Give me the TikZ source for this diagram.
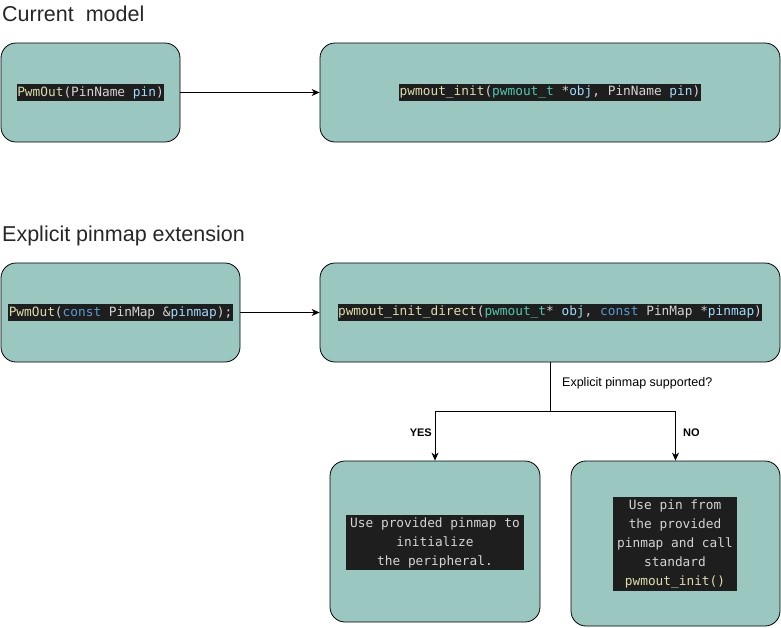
\documentclass[tikz,border=0pt]{standalone}
\usepackage{fontspec}
\setmainfont{Liberation Sans}
\setmonofont{DejaVu Sans Mono}
\usepackage{xcolor}
\usepackage{tikz}
\usetikzlibrary{arrows.meta,positioning}
\definecolor{boxfill}{HTML}{9AC7BF}
\definecolor{codebg}{HTML}{1E1E1E}
\definecolor{codefg}{HTML}{D4D4D4}
\definecolor{codefn}{HTML}{DCDCAA}
\definecolor{codety}{HTML}{4EC9B0}
\definecolor{codekw}{HTML}{569CD6}
\definecolor{codevr}{HTML}{9CDCFE}
\newcommand{\cfn}[1]{\textcolor{codefn}{#1}}
\newcommand{\cty}[1]{\textcolor{codety}{#1}}
\newcommand{\ckw}[1]{\textcolor{codekw}{#1}}
\newcommand{\cvr}[1]{\textcolor{codevr}{#1}}
\begin{document}
\begin{tikzpicture}[x=1pt,y=-1pt,
  block/.style={draw=black,line width=0.8pt,fill=boxfill,rounded corners=15pt},
  code/.style={fill=codebg,text=codefg,font=\ttfamily\fontsize{12.8}{19}\selectfont,
    inner xsep=0.3pt,inner ysep=2.6pt,align=center},
  title/.style={anchor=base west,inner sep=0pt,font=\fontsize{21.5}{24}\selectfont,text=black!85},
  flow/.style={line width=0.8pt,-{Stealth[length=8pt,width=7pt,inset=2.5pt]}},
  branch/.style={inner sep=0pt,font=\fontsize{12.5}{14}\selectfont},
  answer/.style={inner sep=0pt,font=\bfseries\fontsize{11}{13}\selectfont}]
\useasboundingbox (0,0) rectangle (781,627);
\node[title] (cur-title) at (2,21) {Current\ \ model};
\node[title] (ext-title) at (2,241) {Explicit pinmap extension};
\node[block,minimum width=179pt,minimum height=99pt] (cur-api) at (90.5,92.5) {};
\node[block,minimum width=460pt,minimum height=99pt] (cur-hal) at (550,92.5) {};
\node[block,minimum width=239pt,minimum height=99pt] (ext-api) at (120.5,312.5) {};
\node[block,minimum width=460pt,minimum height=99pt] (ext-hal) at (550,312.5) {};
\node[block,minimum width=210pt,minimum height=161pt] (use-pinmap) at (435,541.5) {};
\node[block,minimum width=209pt,minimum height=165pt] (use-pin) at (675.5,543.5) {};
\node[code] (cur-api-code) at (cur-api) {\cfn{PwmOut}(PinName \cvr{pin})};
\node[code] (cur-hal-code) at (cur-hal) {\cfn{pwmout\_init}(\cty{pwmout\_t} *\cvr{obj}, PinName \cvr{pin})};
\node[code] (ext-api-code) at (ext-api) {\cfn{PwmOut}(\ckw{const} PinMap \&\cvr{pinmap});};
\node[code] (ext-hal-code) at (ext-hal) {\cfn{pwmout\_init\_direct}(\cty{pwmout\_t}* \cvr{obj}, \ckw{const} PinMap *\cvr{pinmap})};
\node[code,minimum width=178pt] (use-pinmap-code) at (435,542.5) {Use provided pinmap to\\initialize\\the peripheral.};
\node[code,minimum width=124pt] (use-pin-code) at (675,544) {Use pin from\\the provided\\pinmap and call\\standard\\\cfn{pwmout\_init()}};
\draw[flow] (cur-api) -- (cur-hal);
\draw[flow] (ext-api) -- (ext-hal);
\coordinate (split) at (550,411);
\draw[line width=0.8pt] (ext-hal.south) -- (split);
\draw[flow] (split) -| (use-pinmap.north);
\draw[flow] (split) -| (use-pin.north);
\node[branch,anchor=west] (question) at (562,383) {Explicit pinmap supported?};
\node[answer,anchor=east] (yes) at (432,433) {YES};
\node[answer,anchor=west] (no) at (683,433) {NO};
\end{tikzpicture}
\end{document}
